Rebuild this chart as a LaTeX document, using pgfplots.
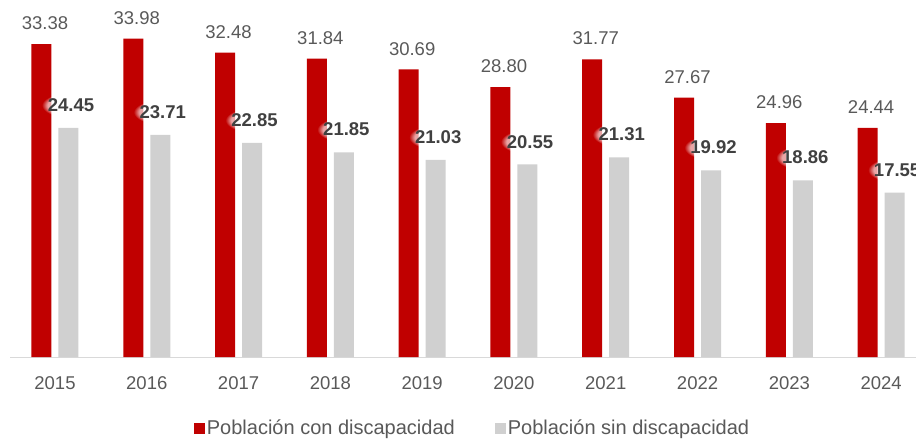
\documentclass[border=0pt]{standalone}
\usepackage{pgfplots}
\pgfplotsset{compat=1.18}
\usepackage{fontspec}
\setmainfont{Liberation Sans}
\usetikzlibrary{fadings}
\definecolor{rojo}{HTML}{C00000}
\definecolor{gris}{HTML}{D0D0D0}
\definecolor{txt}{HTML}{595959}
\definecolor{txtb}{HTML}{404040}
\begin{document}
\begin{tikzpicture}
\begin{axis}[
    scale only axis,
    width=906pt, height=357pt,
    xmin=-0.49, xmax=9.38,
    ymin=0, ymax=38.1,
    axis x line=bottom, axis y line=none,
    x axis line style={-, draw=black!15, line width=1pt},
    xtick={0,...,9},
    xticklabels={2015,2016,2017,2018,2019,2020,2021,2022,2023,2024},
    major tick length=0pt,
    xticklabel style={font=\fontsize{18.5}{20}\selectfont, text=txt, inner sep=0pt, yshift=-19pt},
    /pgf/number format/assume math mode=true,
    clip=false,
    legend columns=2,
    legend style={at={(0.5105,0)}, anchor=center, yshift=-71pt, draw=none,
        font=\fontsize{20}{22}\selectfont, text=txt,
        /tikz/every even column/.append style={column sep=38pt}},
    legend image code/.code={\fill[#1] (2pt,-5.5pt) rectangle (13pt,5.5pt);},
    nodes near coords,
    point meta=explicit,
]
\addplot[ybar, bar width=20pt, bar shift=-13.5pt, fill=rojo, draw=none,
    nodes near coords={\pgfmathprintnumber[fixed,fixed zerofill,precision=2]{\pgfplotspointmeta}},
    nodes near coords style={font=\fontsize{18.5}{20}\selectfont, text=txt, inner sep=0pt, anchor=south, yshift=14pt, xshift=-10pt}]
coordinates {(0,33.38)[33.38] (1,33.98)[33.98] (2,32.48)[32.48] (3,31.84)[31.84] (4,30.69)[30.69]
 (5,28.80)[28.80] (6,31.77)[31.77] (7,27.67)[27.67] (8,24.96)[24.96] (9,24.44)[24.44]};
\addlegendentry{Población con discapacidad}
\addplot[ybar, bar width=20pt, bar shift=13.5pt, fill=gris, draw=none,
    nodes near coords={\pgfmathprintnumber[fixed,fixed zerofill,precision=2]{\pgfplotspointmeta}},
    nodes near coords style={font=\bfseries\fontsize{18.5}{20}\selectfont, text=txtb, inner sep=6pt,
        fill=white, fill opacity=0.65, text opacity=1, path fading=circle with fuzzy edge 20 percent,
        anchor=south, yshift=10pt, xshift=16pt}]
coordinates {(0,24.45)[24.45] (1,23.71)[23.71] (2,22.85)[22.85] (3,21.85)[21.85] (4,21.03)[21.03]
 (5,20.55)[20.55] (6,21.31)[21.31] (7,19.92)[19.92] (8,18.86)[18.86] (9,17.55)[17.55]};
\addlegendentry{Población sin discapacidad}
\coordinate (bl) at (rel axis cs:0,0);
\coordinate (tr) at (rel axis cs:1,1);
\end{axis}
\pgfresetboundingbox
\path (bl) ++(-10pt,-82pt) rectangle (tr);
\end{tikzpicture}
\end{document}
